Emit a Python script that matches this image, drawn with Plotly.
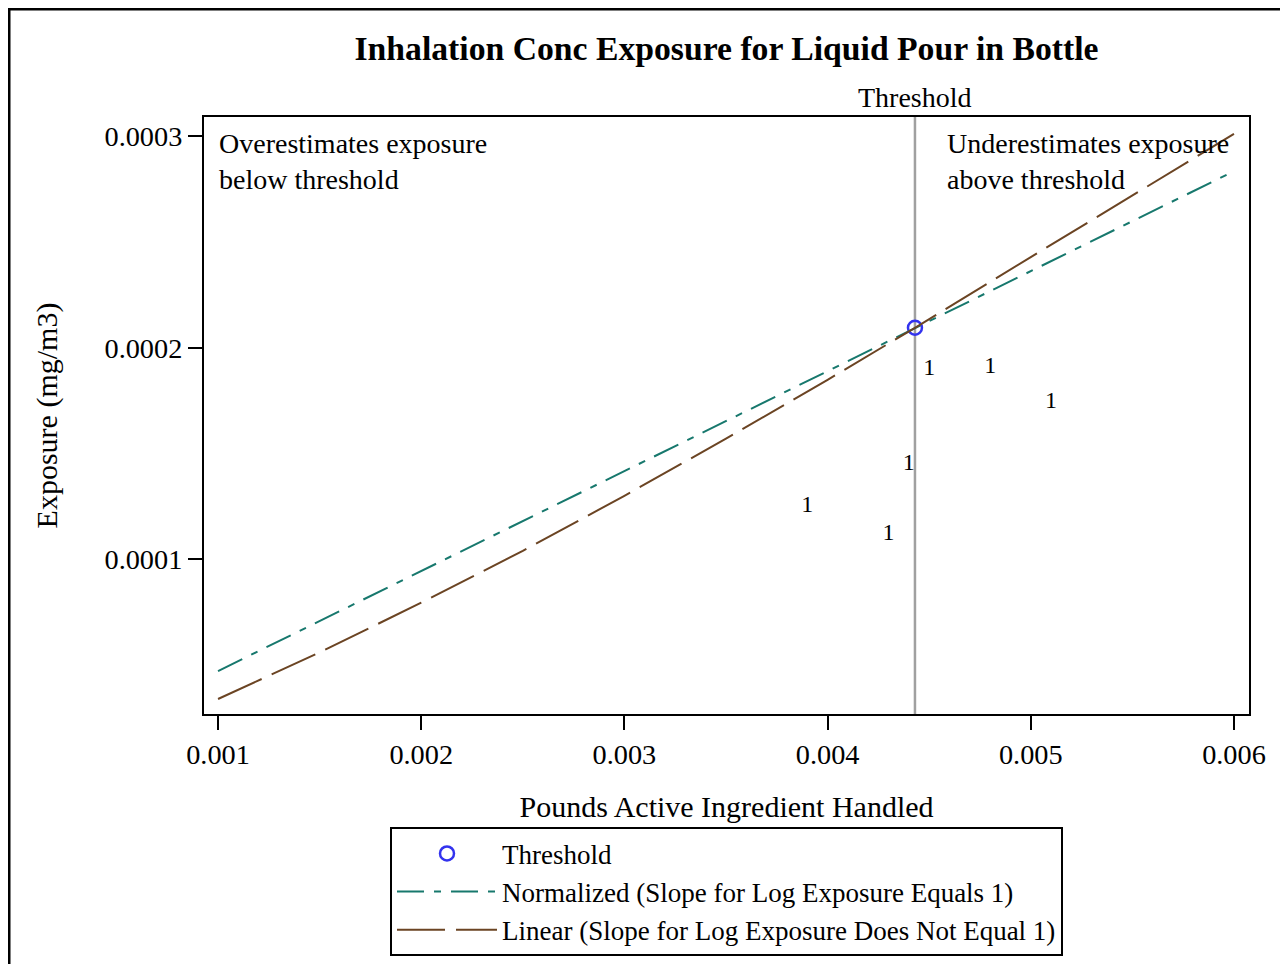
import plotly.graph_objects as go

# ---- data -----------------------------------------------------------------
THRESH_X = [0.00443]
THRESH_Y = [0.0002094]

NORM_X = [0.001, 0.002, 0.003, 0.004, 0.00443, 0.005, 0.006]
NORM_Y = [0.0000472, 0.0000944, 0.0001417, 0.0001889, 0.0002094, 0.0002361, 0.0002834]

LIN_X = [0.001, 0.0015, 0.002, 0.0025, 0.003, 0.0035, 0.004, 0.00443, 0.005, 0.0055, 0.006]
LIN_Y = [0.0000340, 0.0000560, 0.0000795, 0.0001040, 0.0001300, 0.0001570, 0.0001848,
         0.0002094, 0.0002428, 0.0002720, 0.0003010]

OBS_X = [0.0039, 0.0043, 0.0044, 0.0045, 0.0048, 0.0051]
OBS_Y = [0.000125, 0.0001118, 0.0001448, 0.000190, 0.000191, 0.0001745]
OBS_TXT = ["1", "1", "1", "1", "1", "1"]

X_TICKS = [0.001, 0.002, 0.003, 0.004, 0.005, 0.006]
Y_TICKS = [0.0001, 0.0002, 0.0003]

FONT = "Liberation Serif, Times New Roman, serif"
TEAL = "#17786d"
BROWN = "#6b4423"

fig = go.Figure()

fig.add_trace(go.Scatter(
    x=THRESH_X, y=THRESH_Y, mode="markers", name="Threshold",
    marker=dict(symbol="circle-open", size=14, color="#3333ee", line=dict(width=2.5)),
))
fig.add_trace(go.Scatter(
    x=NORM_X, y=NORM_Y, mode="lines",
    name="Normalized (Slope for Log Exposure Equals 1)",
    line=dict(color=TEAL, width=2, dash="27px,10px,7px,10px"),
))
fig.add_trace(go.Scatter(
    x=LIN_X, y=LIN_Y, mode="lines",
    name="Linear (Slope for Log Exposure Does Not Equal 1)",
    line=dict(color=BROWN, width=2, dash="48px,11px"),
))
fig.add_trace(go.Scatter(
    x=OBS_X, y=OBS_Y, mode="text", text=OBS_TXT, showlegend=False,
    textfont=dict(family=FONT, size=24, color="black"),
))

# threshold reference line
fig.add_vline(x=THRESH_X[0], line=dict(color="#a0a0a0", width=2.5), layer="below")

fig.add_annotation(x=THRESH_X[0], xref="x", y=1.0335, yref="paper", yanchor="middle",
                   text="Threshold", showarrow=False,
                   font=dict(family=FONT, size=28, color="black"))
fig.add_annotation(x=0.012, xref="paper", y=0.985, yref="paper",
                   xanchor="left", yanchor="top", align="left", showarrow=False,
                   text="Overestimates exposure<br>below threshold",
                   font=dict(family=FONT, size=28, color="black"))
fig.add_annotation(x=0.709, xref="paper", y=0.985, yref="paper",
                   xanchor="left", yanchor="top", align="left", showarrow=False,
                   text="Underestimates exposure<br>above threshold",
                   font=dict(family=FONT, size=28, color="black"))

# outer frame of the graph
fig.add_shape(type="rect", xref="paper", yref="paper",
              x0=-0.1866, x1=1.034, y0=-0.5, y1=1.181,
              line=dict(color="black", width=3))

fig.update_layout(
    width=1280, height=956,
    margin=dict(l=196, r=39, t=109, b=250, autoexpand=False),
    paper_bgcolor="white", plot_bgcolor="white",
    font=dict(family=FONT, size=28, color="black"),
    title=dict(text="<b>Inhalation Conc Exposure for Liquid Pour in Bottle</b>",
               x=0.5, xref="paper", y=1 - 40 / 956, yanchor="middle",
               font=dict(family=FONT, size=33.7, color="black")),
    legend=dict(
        x=0.5, xanchor="center", y=-0.298, yanchor="middle",
        orientation="v", bordercolor="black", borderwidth=2,
        font=dict(family=FONT, size=27, color="black"),
        itemwidth=100, tracegroupgap=0,
    ),
    showlegend=True,
)
fig.update_xaxes(
    range=[0.000931, 0.006074], tickvals=X_TICKS, tickformat=".3f",
    ticks="outside", ticklen=14, tickwidth=2, tickcolor="black",
    showline=True, linecolor="black", linewidth=2, mirror=True,
    showgrid=False, zeroline=False, automargin=False,
    title=dict(text="Pounds Active Ingredient Handled", standoff=27,
               font=dict(family=FONT, size=30)),
    tickfont=dict(family=FONT, size=28.3),
)
fig.update_yaxes(
    range=[0.0000269, 0.000309], tickvals=Y_TICKS, tickformat=".4f",
    ticks="outside", ticklen=14, tickwidth=2, tickcolor="black",
    showline=True, linecolor="black", linewidth=2, mirror=True,
    showgrid=False, zeroline=False, automargin=False,
    title=dict(text="Exposure (mg/m3)", standoff=38,
               font=dict(family=FONT, size=30)),
    tickfont=dict(family=FONT, size=28.3),
)

fig.write_html("out.html")
